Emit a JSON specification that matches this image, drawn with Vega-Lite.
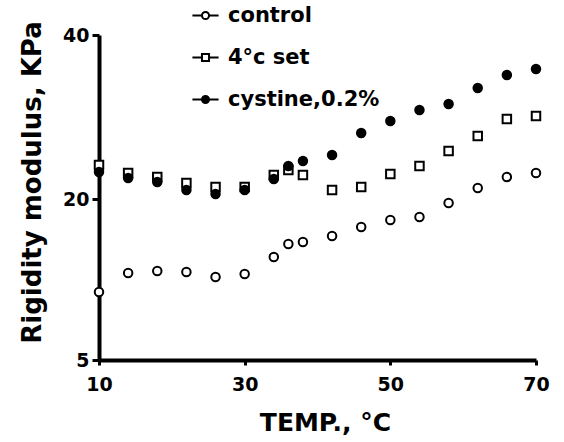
{
  "$schema": "https://vega.github.io/schema/vega-lite/v6.json",
  "width": 437,
  "height": 325,
  "autosize": "none",
  "padding": {"left": 99, "top": 35, "right": 28, "bottom": 82},
  "background": "white",
  "config": {
    "view": {"stroke": null},
    "font": "DejaVu Sans",
    "axis": {
      "grid": false,
      "labelFlush": false,
      "domainColor": "black",
      "domainWidth": 4,
      "tickColor": "black",
      "tickWidth": 3,
      "labelColor": "black",
      "labelFont": "DejaVu Sans",
      "labelFontWeight": "bold",
      "labelFontSize": 19,
      "titleColor": "black",
      "titleFont": "DejaVu Sans",
      "titleFontWeight": "bold",
      "titleFontSize": 24
    }
  },
  "data": {
    "values": [
      {"t": 10, "v": 11.34, "s": "control"},
      {"t": 14, "v": 13.11, "s": "control"},
      {"t": 18, "v": 13.29, "s": "control"},
      {"t": 22, "v": 13.2, "s": "control"},
      {"t": 26, "v": 12.73, "s": "control"},
      {"t": 30, "v": 13.01, "s": "control"},
      {"t": 34, "v": 14.6, "s": "control"},
      {"t": 36, "v": 15.81, "s": "control"},
      {"t": 38, "v": 16.0, "s": "control"},
      {"t": 42, "v": 16.55, "s": "control"},
      {"t": 46, "v": 17.39, "s": "control"},
      {"t": 50, "v": 18.04, "s": "control"},
      {"t": 54, "v": 18.32, "s": "control"},
      {"t": 58, "v": 19.63, "s": "control"},
      {"t": 62, "v": 21.34, "s": "control"},
      {"t": 66, "v": 22.68, "s": "control"},
      {"t": 70, "v": 23.17, "s": "control"},
      {"t": 10, "v": 24.15, "s": "4°c set"},
      {"t": 14, "v": 23.17, "s": "4°c set"},
      {"t": 18, "v": 22.68, "s": "4°c set"},
      {"t": 22, "v": 21.95, "s": "4°c set"},
      {"t": 26, "v": 21.46, "s": "4°c set"},
      {"t": 30, "v": 21.46, "s": "4°c set"},
      {"t": 34, "v": 22.93, "s": "4°c set"},
      {"t": 36, "v": 23.54, "s": "4°c set"},
      {"t": 38, "v": 22.93, "s": "4°c set"},
      {"t": 42, "v": 21.1, "s": "4°c set"},
      {"t": 46, "v": 21.46, "s": "4°c set"},
      {"t": 50, "v": 23.05, "s": "4°c set"},
      {"t": 54, "v": 24.02, "s": "4°c set"},
      {"t": 58, "v": 25.85, "s": "4°c set"},
      {"t": 62, "v": 27.68, "s": "4°c set"},
      {"t": 66, "v": 29.76, "s": "4°c set"},
      {"t": 70, "v": 30.12, "s": "4°c set"},
      {"t": 10, "v": 23.29, "s": "cystine,0.2%"},
      {"t": 14, "v": 22.56, "s": "cystine,0.2%"},
      {"t": 18, "v": 22.07, "s": "cystine,0.2%"},
      {"t": 22, "v": 21.1, "s": "cystine,0.2%"},
      {"t": 26, "v": 20.61, "s": "cystine,0.2%"},
      {"t": 30, "v": 21.1, "s": "cystine,0.2%"},
      {"t": 34, "v": 22.44, "s": "cystine,0.2%"},
      {"t": 36, "v": 24.02, "s": "cystine,0.2%"},
      {"t": 38, "v": 24.63, "s": "cystine,0.2%"},
      {"t": 42, "v": 25.37, "s": "cystine,0.2%"},
      {"t": 46, "v": 28.05, "s": "cystine,0.2%"},
      {"t": 50, "v": 29.51, "s": "cystine,0.2%"},
      {"t": 54, "v": 30.85, "s": "cystine,0.2%"},
      {"t": 58, "v": 31.59, "s": "cystine,0.2%"},
      {"t": 62, "v": 33.54, "s": "cystine,0.2%"},
      {"t": 66, "v": 35.12, "s": "cystine,0.2%"},
      {"t": 70, "v": 35.85, "s": "cystine,0.2%"}
    ]
  },
  "layer": [
    {
      "mark": {"type": "point", "size": 72, "strokeWidth": 2, "stroke": "black", "opacity": 1},
      "encoding": {
        "x": {
          "field": "t",
          "type": "quantitative",
          "scale": {"domain": [10, 70], "nice": false, "zero": false},
          "axis": {
            "values": [10, 30, 50, 70],
            "title": "TEMP.,  °C",
            "titleFontSize": 25,
            "tickSize": 5,
            "labelPadding": 10,
            "titleX": 226,
            "titleY": 70,
            "titleBaseline": "alphabetic"
          }
        },
        "y": {
          "field": "v",
          "type": "quantitative",
          "scale": {"domain": [5, 20, 40], "range": [325, 164, 0], "nice": false, "zero": false},
          "axis": {
            "values": [5, 20, 40],
            "title": "Rigidity modulus, KPa",
            "titleFontSize": 26,
            "tickSize": 7,
            "labelPadding": 3,
            "titleX": -59,
            "titleY": 147,
            "titleBaseline": "alphabetic"
          }
        },
        "shape": {
          "field": "s",
          "type": "nominal",
          "scale": {"domain": ["control", "4°c set", "cystine,0.2%"], "range": ["circle", "square", "circle"]},
          "legend": null
        },
        "fill": {
          "field": "s",
          "type": "nominal",
          "scale": {"domain": ["control", "4°c set", "cystine,0.2%"], "range": ["white", "white", "black"]},
          "legend": null
        }
      }
    },
    {
      "transform": [{"filter": "false"}],
      "mark": {"type": "point", "size": 50, "strokeWidth": 2, "stroke": "black", "opacity": 1},
      "encoding": {
        "shape": {
          "field": "s",
          "type": "nominal",
          "scale": {"domain": ["control", "4°c set", "cystine,0.2%"], "range": ["M-3.7,0H-1M1,0H3.7M1,0A1,1 0 1,1 -1,0A1,1 0 1,1 1,0Z", "M-3.7,0H-1M1,0H3.7M-1,-1H1V1H-1Z", "M-3.7,0H-1M1,0H3.7M1,0A1,1 0 1,1 -1,0A1,1 0 1,1 1,0Z"]},
          "legend": {
            "title": null,
            "orient": "none",
            "legendX": 96,
            "legendY": -30,
            "padding": 0,
            "symbolSize": 50,
            "symbolStrokeWidth": 2,
            "labelFont": "DejaVu Sans",
            "labelFontWeight": "bold",
            "labelFontSize": 21,
            "labelColor": "black",
            "labelOffset": 12,
            "rowPadding": 20
          }
        },
        "fill": {
          "field": "s",
          "type": "nominal",
          "scale": {"domain": ["control", "4°c set", "cystine,0.2%"], "range": ["white", "white", "black"]},
          "legend": {
            "title": null,
            "orient": "none",
            "legendX": 96,
            "legendY": -30,
            "padding": 0,
            "symbolSize": 50,
            "symbolStrokeWidth": 2,
            "labelFont": "DejaVu Sans",
            "labelFontWeight": "bold",
            "labelFontSize": 21,
            "labelColor": "black",
            "labelOffset": 12,
            "rowPadding": 20
          }
        }
      }
    }
  ],
  "resolve": {"scale": {"shape": "independent", "fill": "independent"}}
}
